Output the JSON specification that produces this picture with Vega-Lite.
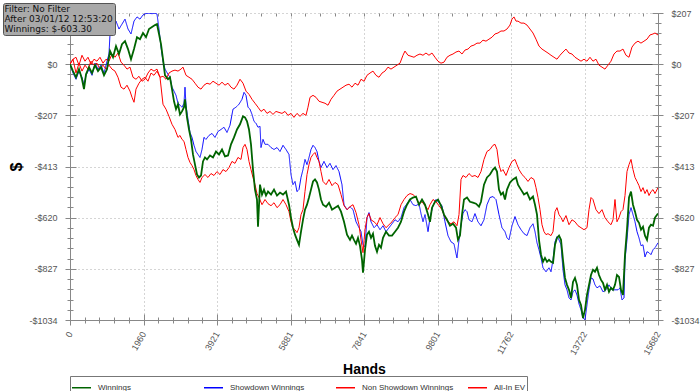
{
"$schema": "https://vega.github.io/schema/vega-lite/v6.json",
"width": 588, "height": 307, "autosize": "none",
"padding": {"left": 70, "top": 13, "right": 42, "bottom": 71},
"background": "white",
"config": {"view": {"stroke": null}, "font": "Liberation Sans", "axis": {"labelFont": "Liberation Sans", "titleFont": "Liberation Sans", "domainColor": "#888888", "tickColor": "#888888", "labelColor": "#555555", "labelFontSize": 9}},
"datasets": {
"w": [{"h":0,"v":0},{"h":80,"v":-28},{"h":160,"v":-53},{"h":240,"v":-20},{"h":320,"v":-61},{"h":373,"v":-101},{"h":427,"v":-41},{"h":507,"v":-12},{"h":587,"v":-36},{"h":667,"v":-4},{"h":747,"v":-28},{"h":827,"v":-12},{"h":907,"v":-45},{"h":987,"v":-20},{"h":1067,"v":53},{"h":1147,"v":28},{"h":1227,"v":73},{"h":1307,"v":41},{"h":1387,"v":81},{"h":1467,"v":93},{"h":1547,"v":61},{"h":1627,"v":20},{"h":1707,"v":61},{"h":1787,"v":109},{"h":1867,"v":101},{"h":1947,"v":126},{"h":2027,"v":109},{"h":2107,"v":142},{"h":2187,"v":150},{"h":2267,"v":158},{"h":2320,"v":162},{"h":2374,"v":122},{"h":2427,"v":81},{"h":2480,"v":20},{"h":2534,"v":-45},{"h":2614,"v":-61},{"h":2667,"v":-53},{"h":2720,"v":-101},{"h":2774,"v":-150},{"h":2827,"v":-182},{"h":2880,"v":-162},{"h":2934,"v":-203},{"h":2987,"v":-191},{"h":3040,"v":-174},{"h":3067,"v":-142},{"h":3120,"v":-215},{"h":3174,"v":-264},{"h":3227,"v":-304},{"h":3280,"v":-365},{"h":3334,"v":-406},{"h":3387,"v":-446},{"h":3440,"v":-458},{"h":3494,"v":-450},{"h":3547,"v":-393},{"h":3600,"v":-377},{"h":3654,"v":-385},{"h":3734,"v":-369},{"h":3814,"v":-377},{"h":3894,"v":-353},{"h":3974,"v":-365},{"h":4054,"v":-345},{"h":4134,"v":-373},{"h":4214,"v":-369},{"h":4294,"v":-324},{"h":4374,"v":-296},{"h":4454,"v":-264},{"h":4534,"v":-243},{"h":4614,"v":-211},{"h":4667,"v":-215},{"h":4721,"v":-231},{"h":4774,"v":-264},{"h":4827,"v":-324},{"h":4881,"v":-426},{"h":4934,"v":-507},{"h":4987,"v":-547},{"h":5014,"v":-657},{"h":5067,"v":-487},{"h":5121,"v":-527},{"h":5174,"v":-507},{"h":5227,"v":-531},{"h":5281,"v":-515},{"h":5361,"v":-527},{"h":5441,"v":-507},{"h":5521,"v":-531},{"h":5601,"v":-519},{"h":5681,"v":-527},{"h":5761,"v":-515},{"h":5841,"v":-568},{"h":5894,"v":-620},{"h":5947,"v":-661},{"h":6001,"v":-689},{"h":6054,"v":-710},{"h":6107,"v":-730},{"h":6161,"v":-677},{"h":6214,"v":-629},{"h":6267,"v":-588},{"h":6321,"v":-568},{"h":6374,"v":-539},{"h":6427,"v":-507},{"h":6481,"v":-474},{"h":6534,"v":-466},{"h":6587,"v":-478},{"h":6641,"v":-507},{"h":6694,"v":-547},{"h":6748,"v":-568},{"h":6828,"v":-576},{"h":6908,"v":-560},{"h":6988,"v":-588},{"h":7068,"v":-580},{"h":7148,"v":-572},{"h":7228,"v":-596},{"h":7308,"v":-637},{"h":7388,"v":-689},{"h":7468,"v":-710},{"h":7521,"v":-693},{"h":7574,"v":-710},{"h":7628,"v":-726},{"h":7681,"v":-702},{"h":7734,"v":-734},{"h":7788,"v":-791},{"h":7814,"v":-843},{"h":7868,"v":-750},{"h":7921,"v":-689},{"h":7974,"v":-677},{"h":8028,"v":-702},{"h":8081,"v":-685},{"h":8134,"v":-734},{"h":8188,"v":-758},{"h":8241,"v":-730},{"h":8294,"v":-742},{"h":8348,"v":-702},{"h":8428,"v":-677},{"h":8508,"v":-693},{"h":8588,"v":-693},{"h":8668,"v":-677},{"h":8748,"v":-661},{"h":8828,"v":-637},{"h":8908,"v":-596},{"h":8988,"v":-568},{"h":9068,"v":-547},{"h":9148,"v":-539},{"h":9228,"v":-535},{"h":9308,"v":-568},{"h":9388,"v":-547},{"h":9468,"v":-568},{"h":9548,"v":-608},{"h":9601,"v":-637},{"h":9655,"v":-580},{"h":9735,"v":-556},{"h":9815,"v":-547},{"h":9895,"v":-572},{"h":9975,"v":-608},{"h":10055,"v":-629},{"h":10135,"v":-653},{"h":10215,"v":-645},{"h":10295,"v":-661},{"h":10348,"v":-710},{"h":10401,"v":-693},{"h":10455,"v":-608},{"h":10508,"v":-547},{"h":10588,"v":-539},{"h":10668,"v":-556},{"h":10748,"v":-560},{"h":10828,"v":-564},{"h":10908,"v":-576},{"h":10961,"v":-556},{"h":11041,"v":-487},{"h":11121,"v":-458},{"h":11201,"v":-446},{"h":11281,"v":-426},{"h":11335,"v":-418},{"h":11388,"v":-434},{"h":11441,"v":-507},{"h":11495,"v":-527},{"h":11548,"v":-519},{"h":11601,"v":-547},{"h":11655,"v":-507},{"h":11735,"v":-478},{"h":11815,"v":-466},{"h":11895,"v":-458},{"h":11948,"v":-487},{"h":12028,"v":-507},{"h":12108,"v":-527},{"h":12188,"v":-519},{"h":12268,"v":-547},{"h":12348,"v":-535},{"h":12402,"v":-568},{"h":12455,"v":-608},{"h":12508,"v":-710},{"h":12562,"v":-770},{"h":12615,"v":-799},{"h":12668,"v":-783},{"h":12722,"v":-799},{"h":12775,"v":-791},{"h":12828,"v":-799},{"h":12882,"v":-803},{"h":12935,"v":-730},{"h":12988,"v":-702},{"h":13042,"v":-693},{"h":13095,"v":-710},{"h":13148,"v":-791},{"h":13202,"v":-864},{"h":13255,"v":-892},{"h":13308,"v":-912},{"h":13362,"v":-945},{"h":13415,"v":-880},{"h":13468,"v":-864},{"h":13522,"v":-892},{"h":13575,"v":-953},{"h":13628,"v":-973},{"h":13682,"v":-1026},{"h":13735,"v":-993},{"h":13788,"v":-933},{"h":13842,"v":-892},{"h":13895,"v":-852},{"h":13948,"v":-831},{"h":14002,"v":-839},{"h":14055,"v":-823},{"h":14108,"v":-852},{"h":14162,"v":-872},{"h":14215,"v":-884},{"h":14268,"v":-912},{"h":14322,"v":-892},{"h":14375,"v":-920},{"h":14428,"v":-904},{"h":14482,"v":-912},{"h":14535,"v":-892},{"h":14588,"v":-852},{"h":14642,"v":-860},{"h":14695,"v":-912},{"h":14748,"v":-933},{"h":14802,"v":-770},{"h":14855,"v":-669},{"h":14909,"v":-539},{"h":14962,"v":-515},{"h":15015,"v":-568},{"h":15069,"v":-596},{"h":15122,"v":-629},{"h":15175,"v":-641},{"h":15229,"v":-669},{"h":15282,"v":-657},{"h":15335,"v":-693},{"h":15389,"v":-710},{"h":15442,"v":-661},{"h":15495,"v":-649},{"h":15549,"v":-653},{"h":15602,"v":-620},{"h":15682,"v":-603.3}],
"sd": [{"h":0,"v":0},{"h":80,"v":-36},{"h":160,"v":-61},{"h":240,"v":-28},{"h":320,"v":-53},{"h":373,"v":-85},{"h":427,"v":-45},{"h":507,"v":-20},{"h":587,"v":-45},{"h":667,"v":4},{"h":747,"v":-20},{"h":827,"v":-4},{"h":907,"v":-36},{"h":987,"v":12},{"h":1040,"v":41},{"h":1067,"v":122},{"h":1147,"v":150},{"h":1227,"v":174},{"h":1307,"v":142},{"h":1387,"v":162},{"h":1467,"v":182},{"h":1547,"v":142},{"h":1627,"v":122},{"h":1707,"v":174},{"h":1787,"v":191},{"h":1867,"v":182},{"h":1947,"v":199},{"h":2027,"v":205},{"h":2107,"v":206},{"h":2187,"v":204},{"h":2267,"v":206},{"h":2320,"v":203},{"h":2374,"v":142},{"h":2427,"v":69},{"h":2480,"v":12},{"h":2534,"v":-20},{"h":2614,"v":-41},{"h":2667,"v":-53},{"h":2720,"v":-93},{"h":2774,"v":-109},{"h":2827,"v":-126},{"h":2880,"v":-158},{"h":2934,"v":-166},{"h":2987,"v":-174},{"h":3040,"v":-158},{"h":3067,"v":-93},{"h":3094,"v":-166},{"h":3147,"v":-223},{"h":3200,"v":-276},{"h":3254,"v":-296},{"h":3307,"v":-328},{"h":3360,"v":-353},{"h":3414,"v":-365},{"h":3467,"v":-377},{"h":3520,"v":-345},{"h":3574,"v":-296},{"h":3627,"v":-304},{"h":3707,"v":-288},{"h":3787,"v":-280},{"h":3867,"v":-296},{"h":3947,"v":-272},{"h":4027,"v":-264},{"h":4107,"v":-255},{"h":4187,"v":-276},{"h":4267,"v":-247},{"h":4347,"v":-182},{"h":4427,"v":-174},{"h":4507,"v":-162},{"h":4587,"v":-142},{"h":4641,"v":-114},{"h":4694,"v":-126},{"h":4747,"v":-174},{"h":4801,"v":-182},{"h":4854,"v":-203},{"h":4907,"v":-231},{"h":4961,"v":-239},{"h":5014,"v":-255},{"h":5067,"v":-251},{"h":5094,"v":-337},{"h":5147,"v":-304},{"h":5201,"v":-324},{"h":5281,"v":-324},{"h":5361,"v":-337},{"h":5441,"v":-345},{"h":5521,"v":-337},{"h":5601,"v":-353},{"h":5681,"v":-328},{"h":5761,"v":-345},{"h":5841,"v":-365},{"h":5894,"v":-446},{"h":5947,"v":-487},{"h":6001,"v":-474},{"h":6054,"v":-515},{"h":6107,"v":-507},{"h":6161,"v":-458},{"h":6214,"v":-426},{"h":6267,"v":-385},{"h":6321,"v":-406},{"h":6374,"v":-377},{"h":6427,"v":-345},{"h":6481,"v":-328},{"h":6534,"v":-337},{"h":6587,"v":-353},{"h":6641,"v":-393},{"h":6694,"v":-418},{"h":6774,"v":-393},{"h":6854,"v":-418},{"h":6934,"v":-401},{"h":7014,"v":-426},{"h":7094,"v":-410},{"h":7174,"v":-434},{"h":7254,"v":-487},{"h":7308,"v":-568},{"h":7388,"v":-588},{"h":7468,"v":-576},{"h":7548,"v":-588},{"h":7628,"v":-637},{"h":7708,"v":-661},{"h":7761,"v":-677},{"h":7814,"v":-730},{"h":7868,"v":-738},{"h":7921,"v":-620},{"h":7974,"v":-600},{"h":8028,"v":-637},{"h":8108,"v":-661},{"h":8188,"v":-649},{"h":8268,"v":-669},{"h":8348,"v":-653},{"h":8428,"v":-677},{"h":8508,"v":-661},{"h":8588,"v":-645},{"h":8668,"v":-629},{"h":8748,"v":-637},{"h":8828,"v":-620},{"h":8908,"v":-580},{"h":8988,"v":-564},{"h":9068,"v":-547},{"h":9148,"v":-568},{"h":9228,"v":-572},{"h":9308,"v":-564},{"h":9361,"v":-604},{"h":9415,"v":-637},{"h":9468,"v":-608},{"h":9548,"v":-677},{"h":9601,"v":-620},{"h":9681,"v":-572},{"h":9761,"v":-547},{"h":9841,"v":-560},{"h":9921,"v":-572},{"h":10001,"v":-637},{"h":10081,"v":-693},{"h":10161,"v":-718},{"h":10241,"v":-726},{"h":10295,"v":-766},{"h":10321,"v":-783},{"h":10375,"v":-710},{"h":10428,"v":-649},{"h":10481,"v":-604},{"h":10535,"v":-588},{"h":10588,"v":-596},{"h":10641,"v":-629},{"h":10721,"v":-637},{"h":10801,"v":-604},{"h":10881,"v":-637},{"h":10961,"v":-653},{"h":11041,"v":-629},{"h":11121,"v":-568},{"h":11201,"v":-539},{"h":11281,"v":-535},{"h":11361,"v":-547},{"h":11441,"v":-608},{"h":11521,"v":-661},{"h":11601,"v":-677},{"h":11655,"v":-702},{"h":11708,"v":-710},{"h":11788,"v":-653},{"h":11868,"v":-616},{"h":11948,"v":-649},{"h":12028,"v":-669},{"h":12108,"v":-685},{"h":12188,"v":-693},{"h":12268,"v":-661},{"h":12348,"v":-645},{"h":12402,"v":-677},{"h":12455,"v":-722},{"h":12508,"v":-750},{"h":12562,"v":-783},{"h":12615,"v":-823},{"h":12695,"v":-839},{"h":12775,"v":-823},{"h":12828,"v":-839},{"h":12882,"v":-791},{"h":12935,"v":-718},{"h":12988,"v":-697},{"h":13042,"v":-710},{"h":13095,"v":-730},{"h":13148,"v":-831},{"h":13202,"v":-892},{"h":13255,"v":-912},{"h":13308,"v":-945},{"h":13362,"v":-953},{"h":13415,"v":-920},{"h":13468,"v":-912},{"h":13522,"v":-933},{"h":13575,"v":-969},{"h":13628,"v":-993},{"h":13682,"v":-1026},{"h":13735,"v":-1033},{"h":13788,"v":-973},{"h":13842,"v":-912},{"h":13895,"v":-864},{"h":13948,"v":-868},{"h":14002,"v":-892},{"h":14055,"v":-904},{"h":14135,"v":-896},{"h":14215,"v":-920},{"h":14295,"v":-912},{"h":14375,"v":-892},{"h":14455,"v":-912},{"h":14535,"v":-912},{"h":14615,"v":-912},{"h":14668,"v":-904},{"h":14722,"v":-953},{"h":14775,"v":-945},{"h":14802,"v":-791},{"h":14855,"v":-710},{"h":14909,"v":-608},{"h":14962,"v":-580},{"h":15015,"v":-608},{"h":15069,"v":-637},{"h":15122,"v":-677},{"h":15175,"v":-702},{"h":15229,"v":-734},{"h":15282,"v":-730},{"h":15335,"v":-779},{"h":15389,"v":-758},{"h":15442,"v":-762},{"h":15495,"v":-770},{"h":15549,"v":-750},{"h":15602,"v":-742},{"h":15682,"v":-722}],
"nsd": [{"h":0,"v":0},{"h":80,"v":20},{"h":160,"v":28},{"h":240,"v":-4},{"h":320,"v":36},{"h":400,"v":12},{"h":480,"v":28},{"h":560,"v":0},{"h":640,"v":20},{"h":720,"v":12},{"h":800,"v":28},{"h":880,"v":4},{"h":960,"v":20},{"h":1040,"v":12},{"h":1120,"v":41},{"h":1200,"v":28},{"h":1280,"v":45},{"h":1360,"v":8},{"h":1440,"v":-4},{"h":1520,"v":-20},{"h":1600,"v":-12},{"h":1680,"v":-53},{"h":1760,"v":-61},{"h":1840,"v":-49},{"h":1920,"v":-69},{"h":2000,"v":-61},{"h":2080,"v":-36},{"h":2160,"v":-20},{"h":2240,"v":-28},{"h":2320,"v":-20},{"h":2400,"v":-53},{"h":2480,"v":-49},{"h":2560,"v":-61},{"h":2640,"v":-36},{"h":2720,"v":-28},{"h":2800,"v":-24},{"h":2880,"v":-28},{"h":2960,"v":-20},{"h":3014,"v":-12},{"h":3094,"v":-45},{"h":3174,"v":-53},{"h":3254,"v":-61},{"h":3334,"v":-77},{"h":3414,"v":-93},{"h":3494,"v":-101},{"h":3574,"v":-85},{"h":3654,"v":-77},{"h":3734,"v":-81},{"h":3814,"v":-69},{"h":3894,"v":-77},{"h":3974,"v":-85},{"h":4054,"v":-73},{"h":4134,"v":-85},{"h":4214,"v":-77},{"h":4294,"v":-93},{"h":4374,"v":-101},{"h":4454,"v":-85},{"h":4534,"v":-61},{"h":4614,"v":-77},{"h":4694,"v":-109},{"h":4774,"v":-122},{"h":4854,"v":-142},{"h":4934,"v":-158},{"h":5014,"v":-174},{"h":5094,"v":-191},{"h":5174,"v":-182},{"h":5254,"v":-199},{"h":5334,"v":-191},{"h":5414,"v":-203},{"h":5494,"v":-191},{"h":5574,"v":-195},{"h":5654,"v":-199},{"h":5734,"v":-191},{"h":5814,"v":-207},{"h":5894,"v":-199},{"h":5974,"v":-215},{"h":6054,"v":-199},{"h":6134,"v":-211},{"h":6214,"v":-199},{"h":6294,"v":-207},{"h":6347,"v":-174},{"h":6401,"v":-134},{"h":6481,"v":-126},{"h":6561,"v":-134},{"h":6641,"v":-150},{"h":6721,"v":-154},{"h":6801,"v":-158},{"h":6881,"v":-166},{"h":6961,"v":-142},{"h":7041,"v":-126},{"h":7121,"v":-109},{"h":7201,"v":-101},{"h":7281,"v":-93},{"h":7361,"v":-85},{"h":7441,"v":-81},{"h":7521,"v":-93},{"h":7601,"v":-77},{"h":7681,"v":-85},{"h":7761,"v":-61},{"h":7841,"v":-69},{"h":7921,"v":-45},{"h":8001,"v":-36},{"h":8081,"v":-28},{"h":8161,"v":-45},{"h":8241,"v":-53},{"h":8321,"v":-36},{"h":8401,"v":-28},{"h":8481,"v":-12},{"h":8561,"v":-20},{"h":8641,"v":-12},{"h":8721,"v":-4},{"h":8801,"v":4},{"h":8881,"v":36},{"h":8934,"v":53},{"h":9014,"v":36},{"h":9094,"v":32},{"h":9174,"v":28},{"h":9254,"v":36},{"h":9334,"v":41},{"h":9414,"v":36},{"h":9494,"v":45},{"h":9574,"v":36},{"h":9654,"v":45},{"h":9734,"v":28},{"h":9814,"v":12},{"h":9894,"v":4},{"h":9974,"v":8},{"h":10054,"v":28},{"h":10134,"v":36},{"h":10214,"v":41},{"h":10294,"v":49},{"h":10374,"v":53},{"h":10454,"v":41},{"h":10534,"v":57},{"h":10614,"v":61},{"h":10694,"v":73},{"h":10774,"v":77},{"h":10854,"v":85},{"h":10934,"v":85},{"h":11014,"v":97},{"h":11094,"v":93},{"h":11174,"v":101},{"h":11254,"v":109},{"h":11334,"v":122},{"h":11414,"v":126},{"h":11494,"v":134},{"h":11574,"v":134},{"h":11654,"v":142},{"h":11734,"v":158},{"h":11788,"v":182},{"h":11841,"v":191},{"h":11895,"v":174},{"h":11948,"v":174},{"h":12028,"v":166},{"h":12108,"v":166},{"h":12188,"v":158},{"h":12268,"v":142},{"h":12348,"v":126},{"h":12428,"v":101},{"h":12508,"v":73},{"h":12588,"v":61},{"h":12668,"v":53},{"h":12748,"v":45},{"h":12828,"v":36},{"h":12908,"v":28},{"h":12988,"v":20},{"h":13068,"v":36},{"h":13148,"v":49},{"h":13228,"v":61},{"h":13308,"v":45},{"h":13388,"v":41},{"h":13468,"v":28},{"h":13548,"v":20},{"h":13628,"v":12},{"h":13708,"v":20},{"h":13788,"v":12},{"h":13868,"v":28},{"h":13948,"v":12},{"h":14028,"v":20},{"h":14108,"v":-4},{"h":14188,"v":-12},{"h":14268,"v":-20},{"h":14348,"v":-4},{"h":14428,"v":12},{"h":14508,"v":41},{"h":14588,"v":53},{"h":14668,"v":53},{"h":14748,"v":61},{"h":14828,"v":36},{"h":14908,"v":28},{"h":14988,"v":69},{"h":15068,"v":85},{"h":15148,"v":93},{"h":15228,"v":85},{"h":15308,"v":93},{"h":15388,"v":101},{"h":15468,"v":118},{"h":15548,"v":122},{"h":15602,"v":126},{"h":15682,"v":118}],
"ev": [{"h":0,"v":0},{"h":80,"v":20},{"h":160,"v":-36},{"h":240,"v":4},{"h":320,"v":-28},{"h":400,"v":-4},{"h":480,"v":-20},{"h":560,"v":12},{"h":640,"v":-4},{"h":720,"v":4},{"h":800,"v":-20},{"h":880,"v":-4},{"h":960,"v":-20},{"h":1040,"v":-4},{"h":1120,"v":-20},{"h":1200,"v":-28},{"h":1280,"v":-53},{"h":1360,"v":-93},{"h":1440,"v":-101},{"h":1520,"v":-85},{"h":1600,"v":-109},{"h":1654,"v":-134},{"h":1707,"v":-154},{"h":1760,"v":-101},{"h":1840,"v":-77},{"h":1920,"v":-61},{"h":2000,"v":-53},{"h":2080,"v":-69},{"h":2160,"v":-36},{"h":2240,"v":-45},{"h":2320,"v":-28},{"h":2400,"v":-53},{"h":2480,"v":-162},{"h":2560,"v":-182},{"h":2640,"v":-211},{"h":2720,"v":-243},{"h":2800,"v":-264},{"h":2880,"v":-296},{"h":2934,"v":-288},{"h":2987,"v":-304},{"h":3040,"v":-312},{"h":3094,"v":-345},{"h":3147,"v":-377},{"h":3200,"v":-397},{"h":3254,"v":-410},{"h":3307,"v":-426},{"h":3360,"v":-450},{"h":3414,"v":-466},{"h":3467,"v":-478},{"h":3520,"v":-458},{"h":3600,"v":-446},{"h":3680,"v":-458},{"h":3760,"v":-442},{"h":3840,"v":-450},{"h":3920,"v":-434},{"h":4000,"v":-446},{"h":4080,"v":-426},{"h":4160,"v":-434},{"h":4240,"v":-418},{"h":4320,"v":-393},{"h":4400,"v":-401},{"h":4480,"v":-377},{"h":4560,"v":-385},{"h":4614,"v":-337},{"h":4667,"v":-324},{"h":4721,"v":-345},{"h":4774,"v":-393},{"h":4827,"v":-426},{"h":4881,"v":-458},{"h":4934,"v":-487},{"h":4987,"v":-523},{"h":5041,"v":-539},{"h":5121,"v":-568},{"h":5201,"v":-547},{"h":5281,"v":-564},{"h":5361,"v":-572},{"h":5441,"v":-560},{"h":5521,"v":-580},{"h":5601,"v":-568},{"h":5681,"v":-547},{"h":5761,"v":-568},{"h":5841,"v":-596},{"h":5894,"v":-637},{"h":5947,"v":-661},{"h":6001,"v":-669},{"h":6054,"v":-681},{"h":6107,"v":-661},{"h":6161,"v":-608},{"h":6214,"v":-588},{"h":6267,"v":-515},{"h":6321,"v":-446},{"h":6374,"v":-406},{"h":6427,"v":-377},{"h":6481,"v":-365},{"h":6534,"v":-357},{"h":6587,"v":-377},{"h":6641,"v":-393},{"h":6694,"v":-434},{"h":6748,"v":-474},{"h":6828,"v":-487},{"h":6908,"v":-466},{"h":6988,"v":-491},{"h":7068,"v":-478},{"h":7148,"v":-487},{"h":7228,"v":-527},{"h":7308,"v":-572},{"h":7388,"v":-588},{"h":7468,"v":-576},{"h":7548,"v":-568},{"h":7628,"v":-600},{"h":7708,"v":-649},{"h":7761,"v":-710},{"h":7814,"v":-762},{"h":7868,"v":-669},{"h":7921,"v":-620},{"h":7974,"v":-604},{"h":8028,"v":-629},{"h":8108,"v":-637},{"h":8188,"v":-649},{"h":8268,"v":-620},{"h":8348,"v":-645},{"h":8428,"v":-661},{"h":8508,"v":-649},{"h":8588,"v":-637},{"h":8668,"v":-620},{"h":8748,"v":-608},{"h":8828,"v":-568},{"h":8908,"v":-547},{"h":8988,"v":-531},{"h":9068,"v":-523},{"h":9148,"v":-527},{"h":9228,"v":-539},{"h":9308,"v":-564},{"h":9388,"v":-556},{"h":9468,"v":-572},{"h":9548,"v":-588},{"h":9601,"v":-568},{"h":9681,"v":-547},{"h":9761,"v":-556},{"h":9841,"v":-572},{"h":9921,"v":-588},{"h":10001,"v":-620},{"h":10081,"v":-637},{"h":10161,"v":-645},{"h":10241,"v":-637},{"h":10321,"v":-653},{"h":10375,"v":-608},{"h":10428,"v":-466},{"h":10481,"v":-450},{"h":10561,"v":-458},{"h":10641,"v":-442},{"h":10721,"v":-454},{"h":10801,"v":-450},{"h":10881,"v":-458},{"h":10961,"v":-434},{"h":11041,"v":-385},{"h":11121,"v":-353},{"h":11201,"v":-345},{"h":11281,"v":-328},{"h":11335,"v":-324},{"h":11388,"v":-345},{"h":11441,"v":-406},{"h":11495,"v":-434},{"h":11548,"v":-426},{"h":11628,"v":-450},{"h":11708,"v":-418},{"h":11788,"v":-393},{"h":11868,"v":-385},{"h":11921,"v":-406},{"h":11975,"v":-426},{"h":12055,"v":-446},{"h":12135,"v":-458},{"h":12215,"v":-474},{"h":12295,"v":-458},{"h":12375,"v":-466},{"h":12428,"v":-499},{"h":12482,"v":-539},{"h":12535,"v":-588},{"h":12588,"v":-649},{"h":12642,"v":-677},{"h":12695,"v":-689},{"h":12748,"v":-685},{"h":12828,"v":-693},{"h":12882,"v":-677},{"h":12935,"v":-596},{"h":12988,"v":-580},{"h":13042,"v":-608},{"h":13095,"v":-620},{"h":13148,"v":-637},{"h":13228,"v":-612},{"h":13308,"v":-649},{"h":13388,"v":-629},{"h":13468,"v":-637},{"h":13548,"v":-653},{"h":13628,"v":-661},{"h":13708,"v":-669},{"h":13788,"v":-661},{"h":13842,"v":-588},{"h":13895,"v":-539},{"h":13948,"v":-547},{"h":14028,"v":-588},{"h":14108,"v":-604},{"h":14188,"v":-588},{"h":14268,"v":-620},{"h":14348,"v":-637},{"h":14428,"v":-649},{"h":14482,"v":-629},{"h":14535,"v":-547},{"h":14588,"v":-637},{"h":14642,"v":-620},{"h":14695,"v":-596},{"h":14748,"v":-588},{"h":14802,"v":-531},{"h":14855,"v":-434},{"h":14909,"v":-406},{"h":14962,"v":-385},{"h":15015,"v":-426},{"h":15069,"v":-458},{"h":15122,"v":-474},{"h":15175,"v":-491},{"h":15229,"v":-515},{"h":15282,"v":-499},{"h":15335,"v":-523},{"h":15389,"v":-507},{"h":15442,"v":-531},{"h":15495,"v":-515},{"h":15549,"v":-507},{"h":15602,"v":-523},{"h":15682,"v":-499}]
},
"layer": [
{
"data": {"name": "sd"},
"mark": {"type": "line", "strokeWidth": 1, "clip": true},
"encoding": {
"x": {"field": "h", "type": "quantitative", "scale": {"domain": [0, 15682], "nice": false, "zero": false},
 "axis": {"orient": "bottom", "values": [0,392.05,784.1,1176.15,1568.2,1960.25,2352.3,2744.35,3136.4,3528.45,3920.5,4312.55,4704.6,5096.65,5488.7,5880.75,6272.8,6664.85,7056.9,7448.95,7841,8233.05,8625.1,9017.15,9409.2,9801.25,10193.3,10585.35,10977.4,11369.45,11761.5,12153.55,12545.6,12937.65,13329.7,13721.75,14113.8,14505.85,14897.9,15289.95,15682],
  "grid": true, "gridColor": "#aaaaaa", "gridDash": [1, 3],
  "gridOpacity": {"condition": {"test": "abs(datum.value/1960.25 - round(datum.value/1960.25)) < 0.001", "value": 1}, "value": 0},
  "tickSize": {"condition": {"test": "abs(datum.value/1960.25 - round(datum.value/1960.25)) < 0.001", "value": 5}, "value": 3},
  "labelExpr": "abs(datum.value/1960.25 - round(datum.value/1960.25)) < 0.001 ? format(datum.value, '.0f') : ''",
  "labelAngle": -60, "labelAlign": "right", "labelBaseline": "middle", "labelPadding": 7, "labelOverlap": false, "labelFlush": false,
  "title": "Hands", "titleFontSize": 14, "titleFontWeight": "bold", "titleColor": "#000000", "titlePadding": 6}},
"y": {"field": "v", "type": "quantitative", "scale": {"domain": [-1034, 206.8], "nice": false, "zero": false},
 "axis": {"orient": "left", "values": [-1034,-992.64,-951.28,-909.92,-868.56,-827.2,-785.84,-744.48,-703.12,-661.76,-620.4,-579.04,-537.68,-496.32,-454.96,-413.6,-372.24,-330.88,-289.52,-248.16,-206.8,-165.44,-124.08,-82.72,-41.36,0,41.36,82.72,124.08,165.44,206.8],
  "grid": true,
  "gridColor": {"condition": {"test": "datum.value == 0", "value": "#555555"}, "value": "#aaaaaa"},
  "gridDash": {"condition": {"test": "datum.value == 0", "value": []}, "value": [1, 3]},
  "gridOpacity": {"condition": {"test": "abs(datum.value/206.8 - round(datum.value/206.8)) < 0.001", "value": 1}, "value": 0},
  "tickSize": {"condition": {"test": "abs(datum.value/206.8 - round(datum.value/206.8)) < 0.001", "value": 5}, "value": 3},
  "labelExpr": "abs(datum.value/206.8 - round(datum.value/206.8)) < 0.001 ? ['$207','$0','-$207','-$413','-$620','-$827','-$1034'][1 - round(datum.value/206.8)] : ''",
  "labelPadding": 8, "labelOverlap": false, "labelFlush": false,
  "title": "$", "titleFontSize": 16, "titleFontWeight": "bold", "titleColor": "#000000", "titlePadding": 4}},
"color": {"datum": "Showdown Winnings", "type": "nominal",
 "scale": {"domain": ["Winnings", "Showdown Winnings", "Non Showdown Winnings", "All-In EV"], "range": ["#006400", "#0000ff", "#ff0000", "#ff0000"]},
 "legend": {"orient": "none", "legendX": 0, "legendY": 363, "direction": "horizontal", "columns": 4, "gridAlign": "all", "columnPadding": 11, "symbolType": "stroke", "symbolSize": 361, "symbolStrokeWidth": 1.5, "labelFont": "Liberation Sans", "labelFontSize": 8, "labelColor": "#333333", "labelOffset": 6, "labelLimit": 300, "strokeColor": "#777777", "fillColor": "#ffffff", "padding": 1, "title": null}},
"strokeDash": {"datum": "info", "type": "nominal",
 "legend": {"orient": "none", "legendX": -67, "legendY": -10, "values": [], "title": ["Filter: No Filter", "After 03/01/12 12:53:20", "Winnings: $-603.30"], "titleFont": "DejaVu Sans", "titleFontWeight": "normal", "titleFontSize": 9, "titleColor": "#111111", "titleLineHeight": 10, "titlePadding": 0, "fillColor": "#a9a9a9", "strokeColor": "#555555", "cornerRadius": 2, "padding": 1.5}}
}
},
{
"data": {"name": "nsd"},
"mark": {"type": "line", "strokeWidth": 1, "clip": true},
"encoding": {
"x": {"field": "h", "type": "quantitative", "scale": {"domain": [0, 15682], "nice": false, "zero": false},
 "axis": {"orient": "bottom", "values": [0,392.05,784.1,1176.15,1568.2,1960.25,2352.3,2744.35,3136.4,3528.45,3920.5,4312.55,4704.6,5096.65,5488.7,5880.75,6272.8,6664.85,7056.9,7448.95,7841,8233.05,8625.1,9017.15,9409.2,9801.25,10193.3,10585.35,10977.4,11369.45,11761.5,12153.55,12545.6,12937.65,13329.7,13721.75,14113.8,14505.85,14897.9,15289.95,15682],
  "domain": false, "labels": false, "grid": false, "title": null,
  "tickSize": {"condition": {"test": "abs(datum.value/1960.25 - round(datum.value/1960.25)) < 0.001", "value": -6}, "value": -3}}},
"y": {"field": "v", "type": "quantitative", "scale": {"domain": [-1034, 206.8], "nice": false, "zero": false},
 "axis": {"orient": "left", "values": [-1034,-992.64,-951.28,-909.92,-868.56,-827.2,-785.84,-744.48,-703.12,-661.76,-620.4,-579.04,-537.68,-496.32,-454.96,-413.6,-372.24,-330.88,-289.52,-248.16,-206.8,-165.44,-124.08,-82.72,-41.36,0,41.36,82.72,124.08,165.44,206.8],
  "domain": false, "labels": false, "grid": false, "title": null,
  "tickSize": {"condition": {"test": "abs(datum.value/206.8 - round(datum.value/206.8)) < 0.001", "value": -6}, "value": -3}}},
"color": {"datum": "Non Showdown Winnings", "type": "nominal"}
}
},
{
"data": {"name": "ev"},
"mark": {"type": "line", "strokeWidth": 1, "clip": true},
"encoding": {
"x": {"field": "h", "type": "quantitative", "scale": {"domain": [0, 15682], "nice": false, "zero": false},
 "axis": {"orient": "top", "values": [0,392.05,784.1,1176.15,1568.2,1960.25,2352.3,2744.35,3136.4,3528.45,3920.5,4312.55,4704.6,5096.65,5488.7,5880.75,6272.8,6664.85,7056.9,7448.95,7841,8233.05,8625.1,9017.15,9409.2,9801.25,10193.3,10585.35,10977.4,11369.45,11761.5,12153.55,12545.6,12937.65,13329.7,13721.75,14113.8,14505.85,14897.9,15289.95,15682],
  "domain": false, "labels": false, "grid": false, "title": null, "tickSize": -3}},
"y": {"field": "v", "type": "quantitative", "scale": {"domain": [-1034, 206.8], "nice": false, "zero": false},
 "axis": {"orient": "right", "values": [-1034,-992.64,-951.28,-909.92,-868.56,-827.2,-785.84,-744.48,-703.12,-661.76,-620.4,-579.04,-537.68,-496.32,-454.96,-413.6,-372.24,-330.88,-289.52,-248.16,-206.8,-165.44,-124.08,-82.72,-41.36,0,41.36,82.72,124.08,165.44,206.8],
  "grid": false, "title": null,
  "tickSize": {"condition": {"test": "abs(datum.value/206.8 - round(datum.value/206.8)) < 0.001", "value": 5}, "value": 3},
  "labelExpr": "abs(datum.value/206.8 - round(datum.value/206.8)) < 0.001 ? ['$207','$0','-$207','-$413','-$620','-$827','-$1034'][1 - round(datum.value/206.8)] : ''",
  "labelPadding": 8, "labelOverlap": false, "labelFlush": false}},
"color": {"datum": "All-In EV", "type": "nominal"}
}
},
{
"data": {"name": "w"},
"mark": {"type": "line", "strokeWidth": 1.8, "clip": true},
"encoding": {
"x": {"field": "h", "type": "quantitative", "scale": {"domain": [0, 15682], "nice": false, "zero": false}, "axis": null},
"y": {"field": "v", "type": "quantitative", "scale": {"domain": [-1034, 206.8], "nice": false, "zero": false},
 "axis": {"orient": "right", "values": [-1034,-992.64,-951.28,-909.92,-868.56,-827.2,-785.84,-744.48,-703.12,-661.76,-620.4,-579.04,-537.68,-496.32,-454.96,-413.6,-372.24,-330.88,-289.52,-248.16,-206.8,-165.44,-124.08,-82.72,-41.36,0,41.36,82.72,124.08,165.44,206.8],
  "domain": false, "labels": false, "grid": false, "title": null,
  "tickSize": {"condition": {"test": "abs(datum.value/206.8 - round(datum.value/206.8)) < 0.001", "value": -6}, "value": -3}}},
"color": {"datum": "Winnings", "type": "nominal"}
}
}
],
"resolve": {"axis": {"x": "independent", "y": "independent"}, "scale": {"x": "shared", "y": "shared", "color": "shared"}}
}
